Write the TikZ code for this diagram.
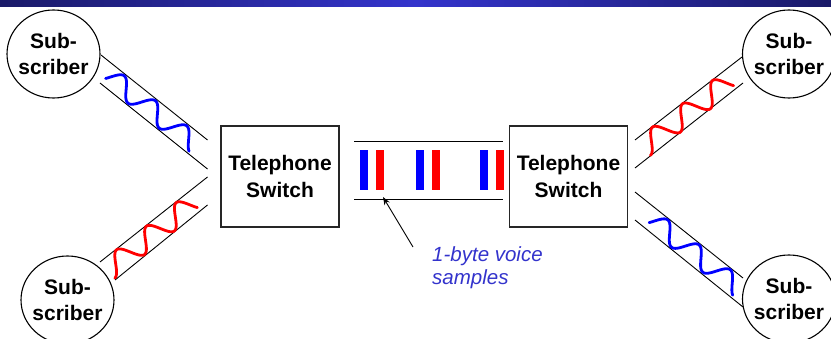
\documentclass[tikz,border=0pt]{standalone}
\usepackage{fontspec}
\setmainfont{Liberation Sans}
\usetikzlibrary{arrows.meta}
\definecolor{navy}{RGB}{26,26,104}
\definecolor{barmid}{RGB}{52,52,204}
\definecolor{labelblue}{RGB}{51,51,204}
\definecolor{sigblue}{RGB}{0,0,255}
\definecolor{sigred}{RGB}{255,0,0}
\def\wamp{9.5}
% #1 colour, #2 #3 start of centre line, #4 #5 unit direction, #6 #7 s-range, #8 start phase (deg), #9 wavelength
\newcommand{\wavedraw}[9]{%
  \draw[#1, line width=2.8pt, line cap=round, line join=round]
  plot[domain=#6:#7, samples=160, smooth, variable=\t]
  ({#2+\t*#4+\wamp*sin(#8+(\t-#6)/#9*360)*#5},
   {#3+\t*#5-\wamp*sin(#8+(\t-#6)/#9*360)*#4});}
\begin{document}
\begin{tikzpicture}[x=1pt,y=-1pt,
  lbl/.style={inner sep=0pt, align=center, font=\fontsize{21}{26.5}\selectfont\bfseries},
  subring/.style={line width=1.1pt},
  switchbox/.style={draw=black!85, line width=1.1pt, minimum width=118pt, minimum height=101pt,
                    inner sep=0pt, align=center, font=\fontsize{21}{26.5}\selectfont\bfseries},
  wire/.style={line width=0.9pt},
  note/.style={inner sep=0pt, align=left, text=labelblue, font=\fontsize{20.5}{22.5}\selectfont\itshape}]
\useasboundingbox (0,0) rectangle (831,339);
% title bar
\shade[left color=navy, right color=navy, middle color=barmid] (0,0) rectangle (831,7);

% subscribers
\node[lbl] (subTL) at (53.5,54) {Sub-\\scriber};
\node[lbl] (subBL) at (67.5,300) {Sub-\\scriber};
\node[lbl] (subTR) at (789,54) {Sub-\\scriber};
\node[lbl] (subBR) at (789,299) {Sub-\\scriber};
\foreach \n in {subTL,subBL,subTR,subBR}
  \draw[subring] (\n.center) ellipse [x radius=46.5pt, y radius=44pt];

% switches
\node[switchbox] (swL) at (280,176.5) {Telephone\\Switch};
\node[switchbox] (swR) at (568.5,176.5) {Telephone\\Switch};

% line pairs
\coordinate (tlA1) at (101,55);   \coordinate (tlA2) at (207.5,140);
\coordinate (tlB1) at (100,83);   \coordinate (tlB2) at (207.5,169);
\coordinate (blA1) at (100,262);  \coordinate (blA2) at (207.5,177);
\coordinate (blB1) at (115,280);  \coordinate (blB2) at (207.5,205);
\coordinate (trA1) at (635,140);  \coordinate (trA2) at (742,57);
\coordinate (trB1) at (635,168);  \coordinate (trB2) at (743,83);
\coordinate (brA1) at (635,192);  \coordinate (brA2) at (743,278);
\coordinate (brB1) at (635,220);  \coordinate (brB2) at (743,307);
\coordinate (mA1) at (354,141);   \coordinate (mA2) at (503,141);
\coordinate (mB1) at (354,199);   \coordinate (mB2) at (503,199);
\foreach \p in {tl,bl,tr,br,m}{
  \draw[wire] (\p A1) -- (\p A2);
  \draw[wire] (\p B1) -- (\p B2);
}

% waves
\def\wamp{9.5}
\wavedraw{sigblue}{100.5}{69}{0.781}{0.625}{9.9}{120.5}{-26.4}{40}
\wavedraw{sigblue}{635}{206}{0.782}{0.623}{21.4}{132}{-26.4}{40}
\def\wamp{10.5}
\wavedraw{sigred}{100}{276.3}{0.7847}{-0.6199}{10.5}{119}{-90}{38}
\wavedraw{sigred}{635}{154}{0.790}{-0.613}{11.3}{119.8}{-90}{38}

% voice samples
\foreach \x in {360,416,480}{
  \fill[sigblue] (\x,150) rectangle (\x+8,190);
  \fill[sigred] (\x+16,150) rectangle (\x+24,190);
}

% annotation
\node[note, anchor=north west] (note) at (432,246.5) {1-byte voice\\samples};
\coordinate (arrTail) at (413,247);
\coordinate (arrTip) at (383,197);
\draw[line width=0.9pt, -{Stealth[length=8pt,width=6pt]}] (arrTail) -- (arrTip);
\end{tikzpicture}
\end{document}
